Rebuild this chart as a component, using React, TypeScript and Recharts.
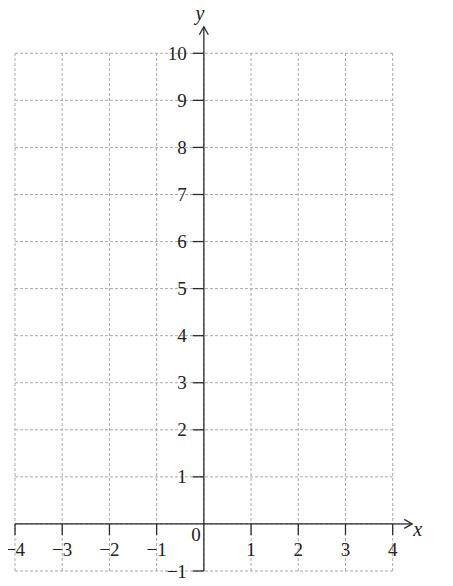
import React from "react";
import { ComposedChart, XAxis, YAxis, ReferenceLine, ReferenceDot } from "recharts";

const gridXValues = [-4, -3, -2, -1, 0, 1, 2, 3, 4];
const gridYValues = [-1, 0, 1, 2, 3, 4, 5, 6, 7, 8, 9, 10];
const xTickValues = [-4, -3, -2, -1, 1, 2, 3, 4];
const yTickValues = [-1, 1, 2, 3, 4, 5, 6, 7, 8, 9, 10];

const data = gridXValues.map((x) => ({ x }));

const FONT = "'Liberation Serif', 'Times New Roman', serif";
const AXIS = "#2b2b2b";
const GRID = "#a9a9a9";

const fmt = (n: number) => (n < 0 ? "\u2212" + Math.abs(n) : String(n));

const XTick = (label: string) => (props: any) => {
  const { cx, cy } = props;
  return (
    <g>
      <line x1={cx} y1={cy} x2={cx} y2={cy + 11} stroke={AXIS} strokeWidth={1.3} />
      <text x={cx} y={cy + 32} textAnchor="middle" fontFamily={FONT} fontSize={19} fill="#222">
        {label}
      </text>
    </g>
  );
};

const YTick = (label: string) => (props: any) => {
  const { cx, cy } = props;
  return (
    <g>
      <line x1={cx} y1={cy} x2={cx - 11} y2={cy} stroke={AXIS} strokeWidth={1.3} />
      <text x={cx - 17} y={cy + 6.5} textAnchor="end" fontFamily={FONT} fontSize={19} fill="#222">
        {label}
      </text>
    </g>
  );
};

const XArrow = (props: any) => {
  const { cx, cy } = props;
  const tip = cx + 19.5;
  return (
    <g>
      <line x1={cx} y1={cy} x2={tip} y2={cy} stroke={AXIS} strokeWidth={1.3} />
      <polyline
        points={`${tip - 8},${cy - 4.5} ${tip},${cy} ${tip - 8},${cy + 4.5}`}
        fill="none"
        stroke={AXIS}
        strokeWidth={1.3}
      />
      <text x={tip + 1} y={cy + 12} fontFamily={FONT} fontStyle="italic" fontSize={20} fill="#222">
        x
      </text>
    </g>
  );
};

const YArrow = (props: any) => {
  const { cx, cy } = props;
  const tip = cy - 26.5;
  return (
    <g>
      <line x1={cx} y1={cy} x2={cx} y2={tip} stroke={AXIS} strokeWidth={1.3} />
      <polyline
        points={`${cx - 4.5},${tip + 8} ${cx},${tip} ${cx + 4.5},${tip + 8}`}
        fill="none"
        stroke={AXIS}
        strokeWidth={1.3}
      />
      <text x={cx - 4} y={tip - 7} textAnchor="middle" fontFamily={FONT} fontStyle="italic" fontSize={20} fill="#222">
        y
      </text>
    </g>
  );
};

const Origin = (props: any) => {
  const { cx, cy } = props;
  return (
    <text x={cx - 3} y={cy + 17} textAnchor="end" fontFamily={FONT} fontSize={19} fill="#222">
      0
    </text>
  );
};

export default function App() {
  return (
    <ComposedChart
      width={437}
      height={570}
      data={data}
      margin={{ top: 45.3, right: 52.3, bottom: 7, left: 7 }}
    >
      <XAxis dataKey="x" type="number" domain={[-4, 4]} hide allowDataOverflow />
      <YAxis type="number" domain={[-1, 10]} hide allowDataOverflow />
      {gridXValues.map((v) => (
        <ReferenceLine
          key={"gx" + v}
          segment={[
            { x: v, y: -1 },
            { x: v, y: 10 },
          ]}
          stroke={GRID}
          strokeWidth={1}
          strokeDasharray="3 2"
          ifOverflow="visible"
        />
      ))}
      {gridYValues.map((v) => (
        <ReferenceLine
          key={"gy" + v}
          segment={[
            { x: -4, y: v },
            { x: 4, y: v },
          ]}
          stroke={GRID}
          strokeWidth={1}
          strokeDasharray="3 2"
          ifOverflow="visible"
        />
      ))}
      <ReferenceLine
        segment={[
          { x: -4, y: 0 },
          { x: 4, y: 0 },
        ]}
        stroke={AXIS}
        strokeWidth={1.3}
        ifOverflow="visible"
      />
      <ReferenceLine
        segment={[
          { x: 0, y: -1 },
          { x: 0, y: 10 },
        ]}
        stroke={AXIS}
        strokeWidth={1.3}
        ifOverflow="visible"
      />
      <ReferenceDot x={4} y={0} ifOverflow="visible" shape={XArrow} />
      <ReferenceDot x={0} y={10} ifOverflow="visible" shape={YArrow} />
      <ReferenceDot x={0} y={0} ifOverflow="visible" shape={Origin} />
      {xTickValues.map((v) => (
        <ReferenceDot key={"xt" + v} x={v} y={0} ifOverflow="visible" shape={XTick(fmt(v))} />
      ))}
      {yTickValues.map((v) => (
        <ReferenceDot key={"yt" + v} x={0} y={v} ifOverflow="visible" shape={YTick(fmt(v))} />
      ))}
    </ComposedChart>
  );
}
